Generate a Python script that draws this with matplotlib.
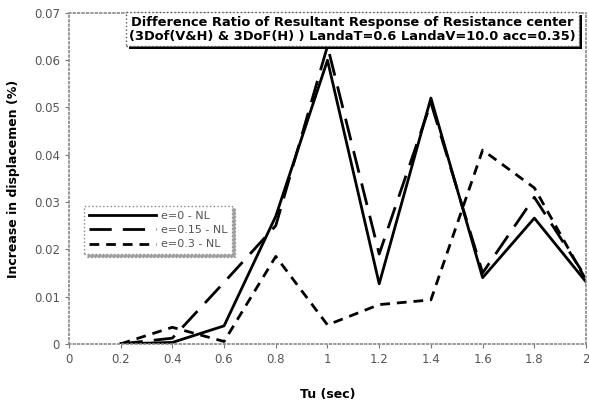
import matplotlib
matplotlib.use("Agg")
import matplotlib.pyplot as plt
from matplotlib.patches import Rectangle

tu = [0.2, 0.4, 0.6, 0.8, 1.0, 1.2, 1.4, 1.6, 1.8, 2.0]
e0 = [0.0, 0.0003, 0.0038, 0.027, 0.060, 0.0127, 0.052, 0.014, 0.0266, 0.0131]
e015 = [0.0, 0.0012, 0.013, 0.025, 0.063, 0.019, 0.051, 0.015, 0.031, 0.014]
e03 = [0.0, 0.0035, 0.0005, 0.0185, 0.004, 0.0083, 0.0093, 0.041, 0.033, 0.0135]
labels = ["e=0 - NL", "e=0.15 - NL", "e=0.3 - NL"]
xticks = [0, 0.2, 0.4, 0.6, 0.8, 1, 1.2, 1.4, 1.6, 1.8, 2]
yticks = [0, 0.01, 0.02, 0.03, 0.04, 0.05, 0.06, 0.07]
title = ("Difference Ratio of Resultant Response of Resistance center\n"
         "(3Dof(V&H) & 3DoF(H) ) LandaT=0.6 LandaV=10.0 acc=0.35)")

fig = plt.figure(figsize=(5.89, 4.05), dpi=100)
ax = fig.add_axes([0.117, 0.151, 0.878, 0.817])

ax.plot(tu, e0, color="black", lw=2, ls="-", label=labels[0])
ax.plot(tu, e015, color="black", lw=2, dashes=(8, 4), label=labels[1])
ax.plot(tu, e03, color="black", lw=2, dashes=(3.5, 2.5), label=labels[2])

ax.set_xlim(0, 2)
ax.set_ylim(0, 0.07)
ax.set_xticks(xticks)
ax.set_xticklabels([("%g" % v) for v in xticks])
ax.set_yticks(yticks)
ax.set_yticklabels(["0"] + ["%.2f" % v for v in yticks[1:]])
ax.tick_params(labelsize=8.5, labelcolor="#555555", color="#777777",
               length=3, direction="out")
for s in ax.spines.values():
  s.set_linestyle(":")
  s.set_color("#888888")
  s.set_linewidth(1.2)

ax.set_xlabel("Tu (sec)", fontsize=9, fontweight="bold", labelpad=16)
ax.set_ylabel("Increase in displacemen (%)", fontsize=9, fontweight="bold",
              labelpad=10)

leg = ax.legend(loc="upper left", bbox_to_anchor=(0.03, 0.418), fontsize=8,
                frameon=True, fancybox=False, shadow=True, handlelength=6,
                labelspacing=0.4, borderpad=0.45, handletextpad=0.4,
                borderaxespad=0)
leg.get_frame().set_edgecolor("#888888")
leg.get_frame().set_linestyle(":")
for t in leg.get_texts():
  t.set_color("#555555")

# title box with drop shadow
t = fig.text(0.598, 0.928, title, ha="center", va="center", fontsize=9.4,
             fontweight="bold", color="black", linespacing=1.1, zorder=5,
             bbox=dict(boxstyle="square,pad=0.25", fc="white", ec="#555555",
                       ls=":"))
fig.canvas.draw()
bb = t.get_bbox_patch().get_window_extent()
fig.patches.append(Rectangle((bb.x0 + 3, bb.y0 - 3), bb.width, bb.height,
                             transform=None, fc="black", ec="none", zorder=4))

fig.savefig("out.png", dpi=100)
